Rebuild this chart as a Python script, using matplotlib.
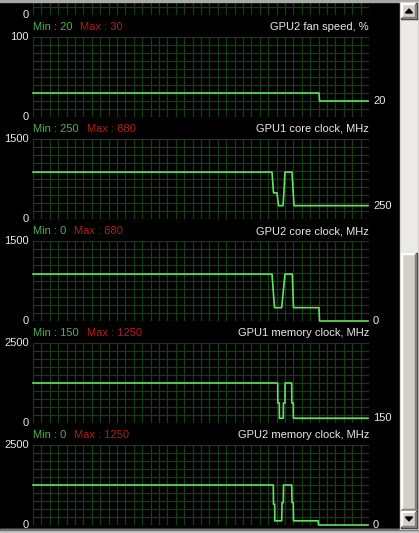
import numpy as np
import matplotlib
matplotlib.use('Agg')
import matplotlib.pyplot as plt
from matplotlib.patches import Rectangle, Polygon

W, H = 419, 533

# monitor panels, top to bottom
titles = ["GPU2 fan speed, %", "GPU1 core clock, MHz", "GPU2 core clock, MHz",
          "GPU1 memory clock, MHz", "GPU2 memory clock, MHz"]
y_max = [100, 1500, 1500, 2500, 2500]
min_vals = [20, 250, 0, 150, 0]
max_vals = [30, 880, 880, 1250, 1250]

# samples (time ticks) and readings
fan2_t = [0, 286, 286.5, 335]
fan2_v = [30, 30, 20, 20]
core1_t = [0, 239, 240.5, 244, 245.5, 250, 251, 252, 259, 261, 335]
core1_v = [880, 880, 490, 490, 250, 250, 520, 880, 880, 250, 250]
core2_t = [0, 239, 241.5, 248.7, 250, 252, 259.3, 260.5, 286, 286.5, 335]
core2_v = [880, 880, 250, 250, 500, 880, 880, 250, 250, 0, 0]
mem1_t = [0, 244.7, 244.8, 246.3, 246.4, 250.3, 250.4, 252, 252.1, 258.7, 258.8, 260.3, 260.4, 335]
mem1_v = [1250, 1250, 625, 625, 150, 150, 625, 625, 1250, 1250, 625, 625, 150, 150]
mem2_t = [0, 240.3, 240.5, 241.7, 241.8, 248.7, 249, 250.3, 250.5, 258.7, 259, 260.3, 260.5, 285.3, 285.5, 335]
mem2_v = [1250, 1250, 650, 650, 130, 130, 700, 700, 1250, 1250, 700, 700, 130, 130, 0, 0]

series = [(fan2_t, fan2_v), (core1_t, core1_v), (core2_t, core2_v),
          (mem1_t, mem1_v), (mem2_t, mem2_v)]

line_c = '#5ce65c'
grid_c = '#143f14'
min_c = '#4fb04f'
max_c = '#b41c1c'
txt_c = '#e8e8e8'
plt.rcParams['font.family'] = ['Liberation Sans', 'DejaVu Sans']
fs = 8

fig = plt.figure(figsize=(W / 100, H / 100), dpi=100)
fig.patch.set_facecolor('black')

x0, pw, ph, pitch, top1 = 33, 336, 80, 102, 37


def fx(x):
    return x / W


def fy(y):
    return 1 - y / H


# partial panel at the very top + the five visible ones
for i in range(6):
    top = top1 + pitch * (i - 1)
    ax = fig.add_axes([fx(x0), fy(top + ph), pw / W, ph / H])
    ax.set_facecolor('black')
    ymax = y_max[i - 1] if i > 0 else 100
    ax.set_xlim(0, pw)
    ax.set_ylim(0, ymax)
    ax.set_xticks([])
    ax.set_yticks([])
    ax.set_xticks(np.linspace(0, pw, 41), minor=True)
    ax.set_yticks(np.linspace(0, ymax, 11), minor=True)
    ax.tick_params(which='both', length=0, labelbottom=False, labelleft=False)
    ax.grid(which='minor', color=grid_c, lw=0.9)
    for s in ax.spines.values():
        s.set_visible(False)
    fig.text(fx(29), fy(top + ph), "0", color=txt_c, fontsize=fs, ha='right', va='center')
    if i == 0:
        continue
    fig.text(fx(29), fy(top), str(ymax), color=txt_c, fontsize=fs, ha='right', va='center')

    t, v = series[i - 1]
    ax.plot(t, v, color=line_c, lw=1.2, clip_on=False)
    ax.text(pw + 4, v[-1], str(v[-1]), color=txt_c, fontsize=fs, ha='left', va='center')

    ty = top - 10
    fig.text(fx(x0 + pw), fy(ty), titles[i - 1], color=txt_c, fontsize=fs, ha='right', va='center')
    mt = fig.text(fx(x0), fy(ty), "Min : %d" % min_vals[i - 1], color=min_c, fontsize=fs,
                  ha='left', va='center')
    ax.annotate("Max : %d" % max_vals[i - 1], xy=(1, 0.5), xycoords=mt, xytext=(8, 0),
                textcoords='offset pixels', color=max_c, fontsize=fs, ha='left', va='center',
                annotation_clip=False)

# window frame and scrollbar
deco = fig.add_axes([0, 0, 1, 1])
deco.set_xlim(0, W)
deco.set_ylim(H, 0)
deco.axis('off')
deco.patch.set_alpha(0)

face = '#d4d0c8'
deco.add_patch(Rectangle((0, 0), W, 2, color='#a8a8a8'))
deco.add_patch(Rectangle((0, 529), W, 4, color='#c8c8c8'))
deco.add_patch(Rectangle((0, 529), W, 1, color='#707070'))
deco.add_patch(Rectangle((400, 2), 19, 527, color=face))
deco.add_patch(Rectangle((401, 19), 16, 234, color='#eceae6'))


def button(y0, y1):
    deco.add_patch(Rectangle((401, y0), 16, y1 - y0, color=face))
    deco.add_patch(Rectangle((401, y0), 16, 1, color='white'))
    deco.add_patch(Rectangle((401, y0), 1, y1 - y0, color='white'))
    deco.add_patch(Rectangle((401, y1 - 1), 16, 1, color='#404040'))
    deco.add_patch(Rectangle((416, y0), 1, y1 - y0, color='#404040'))
    deco.add_patch(Rectangle((402, y1 - 2), 14, 1, color='#808080'))
    deco.add_patch(Rectangle((415, y0 + 1), 1, y1 - y0 - 2, color='#808080'))


button(3, 19)
button(253, 511)
button(511, 528)
deco.add_patch(Polygon([(405.5, 13), (412.5, 13), (409, 9)], color='black'))
deco.add_patch(Polygon([(405.5, 517), (412.5, 517), (409, 521)], color='black'))

fig.savefig('out.png', dpi=100, facecolor=fig.get_facecolor())
